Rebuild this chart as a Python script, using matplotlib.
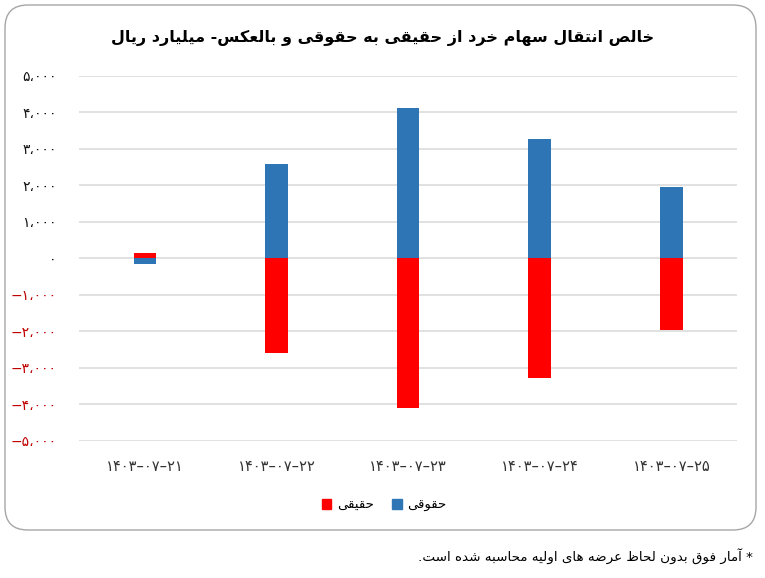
#importing libraries
import numpy as np
import matplotlib.pyplot as plt
from matplotlib.patches import FancyBboxPatch, Patch

# Arabic letter forms (isolated, final, initial, medial), since matplotlib does no shaping
FORMS = {
    'ا': (0xFE8D, 0xFE8E), 'آ': (0xFE81, 0xFE82),
    'ب': (0xFE8F, 0xFE90, 0xFE91, 0xFE92), 'پ': (0xFB56, 0xFB57, 0xFB58, 0xFB59),
    'ت': (0xFE95, 0xFE96, 0xFE97, 0xFE98), 'ث': (0xFE99, 0xFE9A, 0xFE9B, 0xFE9C),
    'ج': (0xFE9D, 0xFE9E, 0xFE9F, 0xFEA0), 'ح': (0xFEA1, 0xFEA2, 0xFEA3, 0xFEA4),
    'خ': (0xFEA5, 0xFEA6, 0xFEA7, 0xFEA8), 'د': (0xFEA9, 0xFEAA), 'ذ': (0xFEAB, 0xFEAC),
    'ر': (0xFEAD, 0xFEAE), 'ز': (0xFEAF, 0xFEB0),
    'س': (0xFEB1, 0xFEB2, 0xFEB3, 0xFEB4), 'ش': (0xFEB5, 0xFEB6, 0xFEB7, 0xFEB8),
    'ص': (0xFEB9, 0xFEBA, 0xFEBB, 0xFEBC), 'ض': (0xFEBD, 0xFEBE, 0xFEBF, 0xFEC0),
    'ط': (0xFEC1, 0xFEC2, 0xFEC3, 0xFEC4), 'ظ': (0xFEC5, 0xFEC6, 0xFEC7, 0xFEC8),
    'ع': (0xFEC9, 0xFECA, 0xFECB, 0xFECC), 'غ': (0xFECD, 0xFECE, 0xFECF, 0xFED0),
    'ف': (0xFED1, 0xFED2, 0xFED3, 0xFED4), 'ق': (0xFED5, 0xFED6, 0xFED7, 0xFED8),
    'ک': (0xFB8E, 0xFB8F, 0xFB90, 0xFB91), 'ل': (0xFEDD, 0xFEDE, 0xFEDF, 0xFEE0),
    'م': (0xFEE1, 0xFEE2, 0xFEE3, 0xFEE4), 'ن': (0xFEE5, 0xFEE6, 0xFEE7, 0xFEE8),
    'ه': (0xFEE9, 0xFEEA, 0xFEEB, 0xFEEC), 'و': (0xFEED, 0xFEEE),
    'ی': (0xFBFC, 0xFBFD, 0xFBFE, 0xFBFF),
}


def fa(text):
    #shape letters and reverse for right-to-left display
    out = []
    for i, ch in enumerate(text):
        if ch not in FORMS:
            out.append(ch)
            continue
        prev = text[i-1] if i > 0 else ''
        nxt = text[i+1] if i+1 < len(text) else ''
        jp = prev in FORMS and len(FORMS[prev]) == 4
        jn = len(FORMS[ch]) == 4 and nxt in FORMS
        f = FORMS[ch]
        if jp and jn:
            c = f[3]
        elif jp:
            c = f[1]
        elif jn:
            c = f[2]
        else:
            c = f[0]
        out.append(chr(c))
    return ''.join(reversed(out))


DIGITS = str.maketrans('0123456789', '۰۱۲۳۴۵۶۷۸۹')


def fa_num(v):
    s = f"{abs(int(v)):,}".replace(',', '،').translate(DIGITS)
    return ('−' + s) if v < 0 else s


#data
dates = ['۱۴۰۳–۰۷–۲۱', '۱۴۰۳–۰۷–۲۲', '۱۴۰۳–۰۷–۲۳', '۱۴۰۳–۰۷–۲۴', '۱۴۰۳–۰۷–۲۵']
haghighi = [150, -2590, -4110, -3270, -1950]
hoghooghi = [-150, 2590, 4110, 3275, 1955]
yticks = [5000, 4000, 3000, 2000, 1000, 0, -1000, -2000, -3000, -4000, -5000]

title = 'خالص انتقال سهام خرد از حقیقی به حقوقی و بالعکس- میلیارد ریال'
name_red = 'حقیقی'
name_blue = 'حقوقی'
note = '* آمار فوق بدون لحاظ عرضه های اولیه محاسبه شده است.'

plt.rcParams['font.family'] = ['DejaVu Sans']

W, H = 765, 578
fig = plt.figure(figsize=(W/100, H/100), dpi=100)

#rounded frame around chart
frame = FancyBboxPatch((5/W, 48/H), 751/W, 525/H, transform=fig.transFigure,
                       boxstyle='round,pad=0,rounding_size=0.03', facecolor='white',
                       edgecolor='#A6A6A6', linewidth=1.0, mutation_aspect=W/H, zorder=-1)
fig.patches.append(frame)

ax = fig.add_axes([79/W, 1-441/H, (737.3-79)/W, (441-75.7)/H])
ax.set_facecolor('none')
x = np.arange(len(dates))
ax.bar(x, haghighi, width=0.172, color='#FF0000', zorder=3)
ax.bar(x, hoghooghi, width=0.172, color='#2E75B6', zorder=3)

ax.set_xlim(-0.5, len(dates)-0.5)
ax.set_ylim(-5000, 5000)
ax.set_yticks(yticks)
ax.set_yticklabels([fa_num(v) for v in yticks])
for lab, v in zip(ax.get_yticklabels(), yticks):
    lab.set_color('#C00000' if v < 0 else '#111111')
ax.set_xticks(x)
ax.set_xticklabels(dates)
ax.tick_params(axis='y', length=0, pad=16, labelsize=10)
ax.tick_params(axis='x', length=0, pad=13, labelsize=10.5, labelcolor='#333333')
ax.grid(axis='y', color='#D9D9D9', linewidth=1.1, zorder=0)
for s in ax.spines.values():
    s.set_visible(False)

fig.text(383/W, 1-38/H, fa(title), ha='center', va='center', fontsize=11.5,
         fontweight='bold', color='black')

handles = [Patch(color='#FF0000', label=fa(name_red)),
           Patch(color='#2E75B6', label=fa(name_blue))]
fig.legend(handles=handles, loc='center', bbox_to_anchor=(384/W, 1-505/H), ncol=2,
           frameon=False, fontsize=9.5, handlelength=0.75, handleheight=0.75,
           handletextpad=0.4, columnspacing=1.4)

fig.text(753/W, 1-557/H, fa(note), ha='right', va='center', fontsize=9.7, color='black')

plt.savefig('out.png', dpi=100)
